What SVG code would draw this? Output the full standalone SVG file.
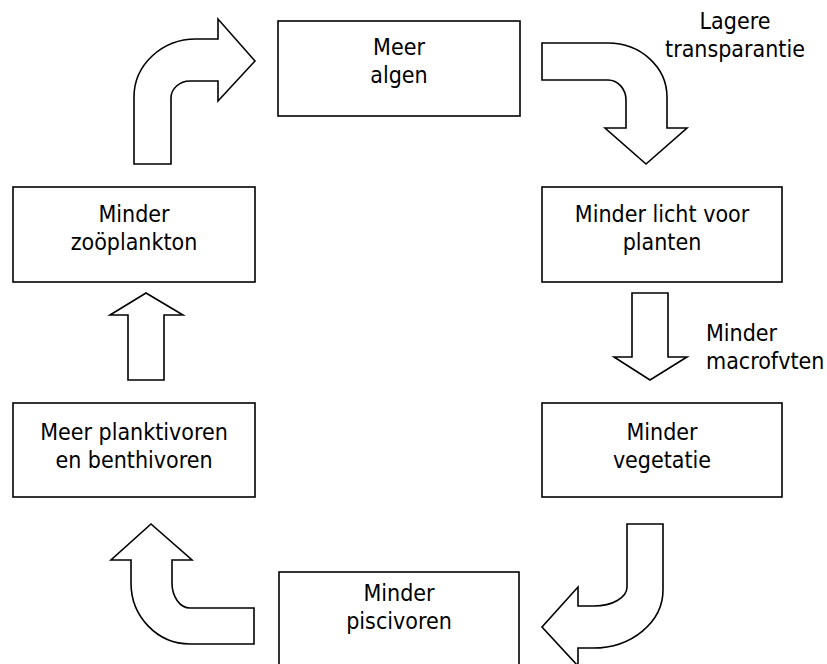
<svg xmlns="http://www.w3.org/2000/svg" width="827" height="664" viewBox="0 0 827 664">
<style>
.box{fill:#fff;stroke:#000;stroke-width:1.6}
.arr{fill:#fff;stroke:#000;stroke-width:1.6;stroke-linejoin:miter}
text{font-family:"DejaVu Sans Condensed","DejaVu Sans",sans-serif;font-stretch:condensed;font-size:23px;fill:#000}
.c{text-anchor:middle}
</style>
<rect width="827" height="664" fill="#fff"/>
<g id="connectors">
<path class="arr" d="M134,164 L134,97 A62,58 0 0 1 196,39 L218,39 L218,19 L255,61 L218,101 L218,81 L190,81 A19,17 0 0 0 171,98 L171,164 Z"/>
<path class="arr" d="M542,43 L608,43 A59,54 0 0 1 667,97 L667,128 L687,128 L646,164 L605,128 L626,128 L626,100 A18,20 0 0 0 608,80 L542,80 Z"/>
<path class="arr" d="M632,293 L668,293 L668,357 L687,357 L650,380 L614,357 L632,357 Z"/>
<path class="arr" d="M627,524 L663,524 L663,590 A70,58 0 0 1 593,648 L578,648 L578,666 L542,627 L578,587 L578,606 L594,606 A33,19 0 0 0 627,587 Z"/>
<path class="arr" d="M254,608 L254,644 L190,644 A59,61 0 0 1 131,583 L131,560 L111,560 L151,524 L192,560 L172,560 L172,583 A18,25 0 0 0 190,608 Z"/>
<path class="arr" d="M128,380 L128,315 L110,315 L146,293 L183,315 L164,315 L164,380 Z"/>
<text class="c" x="735" y="29">Lagere</text>
<text class="c" x="735" y="57">transparantie</text>
<text x="706" y="341">Minder</text>
<text x="706" y="369">macrofvten</text>
</g>
<g id="meer-algen">
<rect class="box" x="278" y="21" width="242" height="95"/>
<text class="c" x="399" y="55">Meer</text>
<text class="c" x="399" y="83">algen</text>
</g>
<g id="minder-licht">
<rect class="box" x="542" y="187" width="240" height="95"/>
<text class="c" x="662" y="222">Minder licht voor</text>
<text class="c" x="662" y="250">planten</text>
</g>
<g id="minder-vegetatie">
<rect class="box" x="542" y="403" width="240" height="94"/>
<text class="c" x="662" y="440">Minder</text>
<text class="c" x="662" y="468">vegetatie</text>
</g>
<g id="minder-piscivoren">
<rect class="box" x="279" y="572" width="240" height="96"/>
<text class="c" x="399" y="601">Minder</text>
<text class="c" x="399" y="629">piscivoren</text>
</g>
<g id="meer-planktivoren">
<rect class="box" x="13" y="403" width="242" height="94"/>
<text class="c" x="134" y="440">Meer planktivoren</text>
<text class="c" x="134" y="468">en benthivoren</text>
</g>
<g id="minder-zooplankton">
<rect class="box" x="13" y="187" width="242" height="95"/>
<text class="c" x="134" y="222">Minder</text>
<text class="c" x="134" y="250">zoöplankton</text>
</g>
</svg>
